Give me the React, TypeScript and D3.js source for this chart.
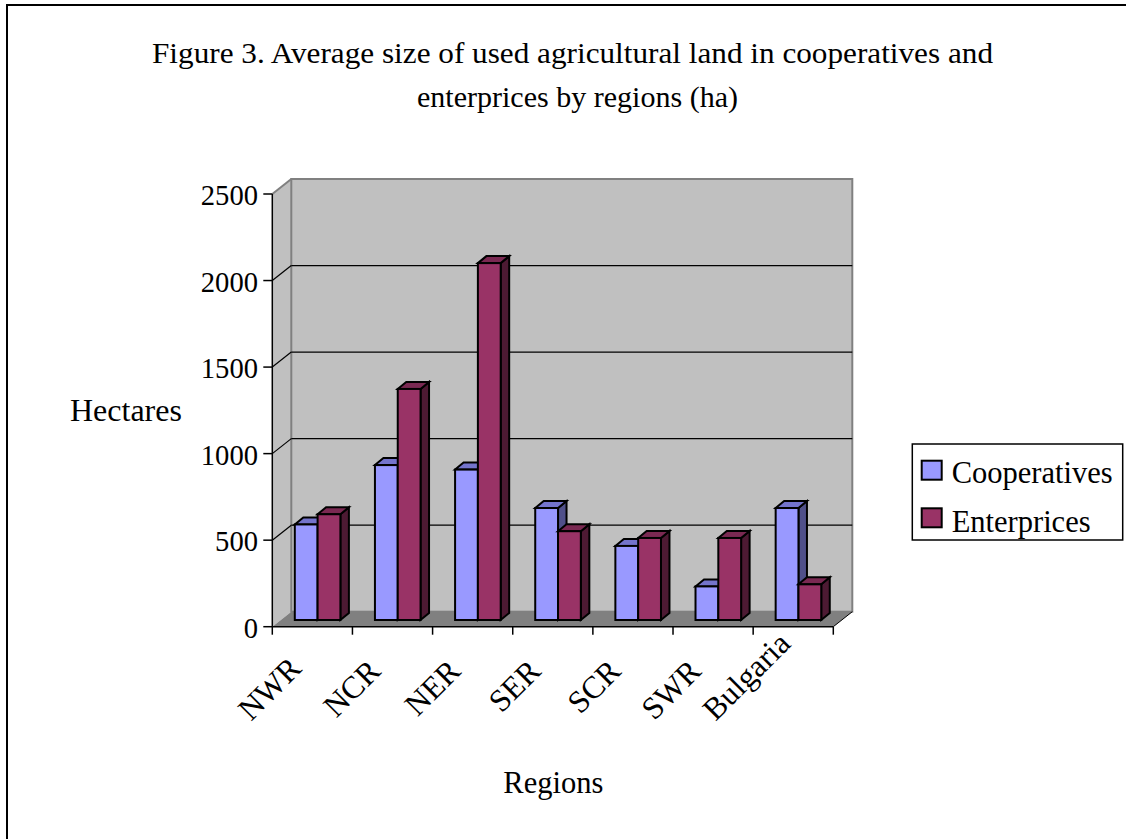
import React from "react";
import * as d3 from "d3";

// Regions and the average used agricultural land (ha) per farm type
const categories = ["NWR", "NCR", "NER", "SER", "SCR", "SWR", "Bulgaria"];
const cooperatives = [552, 895, 869, 647, 428, 194, 647];
const enterprices = [611, 1335, 2062, 513, 474, 474, 206];
const yTicks = [0, 500, 1000, 1500, 2000, 2500];
const seriesNames = ["Cooperatives", "Enterprices"];
const titleLines = [
  "Figure 3. Average size of used agricultural land in cooperatives and",
  "enterprices by regions (ha)",
];

const FONT = "'Liberation Serif', 'Times New Roman', serif";
const LABEL_SIZE = 31.5;

// 3D frame: front plane, oblique depth offset of the back wall
const X0 = 272.3;
const X1 = 833.3;
const Y_BASE = 626.7;
const Y_TOP = 194;
const DX = 19;
const DY = -15;

// bars sit part way into the depth
const BAR_BASE = 620;
const BAR_OFFSET = 22.5;
const BAR_W = 22.8;
const BDX = 8.5;
const BDY = -7;

const seriesColors = [
  { front: "#9999FF", top: "#7474CC", side: "#50508A" },
  { front: "#993366", top: "#7A2952", side: "#4D1A33" },
];

// width of a string in the label font
function measure(text: string, size: number): number {
  if (typeof document === "undefined") return text.length * size * 0.5;
  const ctx = document.createElement("canvas").getContext("2d");
  if (!ctx) return text.length * size * 0.5;
  ctx.font = `${size}px ${FONT}`;
  return ctx.measureText(text).width;
}

export default function App() {
  const x = d3.scaleBand<string>().domain(categories).range([X0, X1]).padding(0);
  const yAxis = d3.scaleLinear().domain([0, 2500]).range([Y_BASE, Y_TOP]);
  const yBar = d3
    .scaleLinear()
    .domain([0, 2500])
    .range([BAR_BASE, BAR_BASE - (Y_BASE - Y_TOP)]);

  const series = [cooperatives, enterprices];
  const pts = (a: number[][]) => a.map((p) => p.join(",")).join(" ");

  const bars: React.ReactNode[] = [];
  categories.forEach((c, ci) => {
    series.forEach((vals, si) => {
      const v = vals[ci];
      const bx = (x(c) as number) + BAR_OFFSET + si * BAR_W;
      const yt = yBar(v);
      const col = seriesColors[si];
      const st = { stroke: "#000", strokeWidth: 2, strokeLinejoin: "miter" as const };
      bars.push(
        <g key={`${c}-${si}`}>
          <polygon
            points={pts([
              [bx + BAR_W, yt],
              [bx + BAR_W + BDX, yt + BDY],
              [bx + BAR_W + BDX, BAR_BASE + BDY],
              [bx + BAR_W, BAR_BASE],
            ])}
            fill={col.side}
            {...st}
          />
          <polygon
            points={pts([
              [bx, yt],
              [bx + BDX, yt + BDY],
              [bx + BAR_W + BDX, yt + BDY],
              [bx + BAR_W, yt],
            ])}
            fill={col.top}
            {...st}
          />
          <rect x={bx} y={yt} width={BAR_W} height={BAR_BASE - yt} fill={col.front} {...st} />
        </g>
      );
    });
  });

  const step = x.step();
  const tickXs = d3.range(categories.length + 1).map((i) => X0 + i * step);

  // rotated labels hang from the axis; long ones are lifted so they stay in the label band
  const LABEL_END_Y = 673;
  const LABEL_BOTTOM = 722;
  const labelPos = categories.map((c) => {
    const cx = (x(c) as number) + step / 2;
    const w = measure(c, LABEL_SIZE);
    const yEnd = Math.min(LABEL_END_Y, LABEL_BOTTOM - w * Math.SQRT1_2);
    const lift = LABEL_END_Y - yEnd;
    return { c, x: cx - 10.5 + lift * 0.34, y: yEnd };
  });

  return (
    <svg
      width={1126}
      height={839}
      style={{ position: "absolute", left: 0, top: 0, background: "#fff" }}
      fontFamily={FONT}
    >
      <rect x={0} y={0} width={1126} height={839} fill="#fff" />
      <rect x={7} y={5} width={1140} height={860} fill="#fff" stroke="#000" strokeWidth={2} />

      {/* title */}
      <text x={572.5} y={63} fontSize={30} textAnchor="middle" textLength={841} lengthAdjust="spacingAndGlyphs">
        {titleLines[0]}
      </text>
      <text x={577.5} y={107} fontSize={30} textAnchor="middle" textLength={321} lengthAdjust="spacingAndGlyphs">
        {titleLines[1]}
      </text>

      {/* walls and floor */}
      <polygon
        points={pts([
          [X0, Y_TOP],
          [X0 + DX, Y_TOP + DY],
          [X0 + DX, Y_BASE + DY],
          [X0, Y_BASE],
        ])}
        fill="#C0C0C0"
      />
      <rect
        x={X0 + DX}
        y={Y_TOP + DY}
        width={X1 - X0}
        height={Y_BASE - Y_TOP}
        fill="#C0C0C0"
        stroke="#808080"
        strokeWidth={2}
      />
      <polygon
        points={pts([
          [X0, Y_BASE],
          [X0 + DX, Y_BASE + DY],
          [X1 + DX, Y_BASE + DY],
          [X1, Y_BASE],
        ])}
        fill="#808080"
      />
      <line x1={X0} y1={Y_TOP} x2={X0 + DX} y2={Y_TOP + DY} stroke="#808080" strokeWidth={2} />

      {/* gridlines */}
      {yTicks
        .filter((t) => t > 0 && t < 2500)
        .map((t) => (
          <g key={`g${t}`} stroke="#000" strokeWidth={1.2}>
            <line x1={X0} y1={yAxis(t)} x2={X0 + DX} y2={yAxis(t) + DY} />
            <line x1={X0 + DX} y1={yAxis(t) + DY} x2={X1 + DX} y2={yAxis(t) + DY} />
          </g>
        ))}

      {/* value axis */}
      <line x1={X0} y1={Y_TOP} x2={X0} y2={Y_BASE} stroke="#000" strokeWidth={1.5} />
      {yTicks.map((t) => (
        <g key={`t${t}`}>
          <line x1={X0 - 9} y1={yAxis(t)} x2={X0} y2={yAxis(t)} stroke="#000" strokeWidth={1.5} />
          <text x={258} y={yAxis(t) + 11} fontSize={28.6} textAnchor="end">
            {t}
          </text>
        </g>
      ))}

      {/* category axis */}
      <line x1={X0} y1={Y_BASE} x2={X1} y2={Y_BASE} stroke="#000" strokeWidth={1.5} />
      <line x1={X1} y1={Y_BASE} x2={X1 + DX} y2={Y_BASE + DY} stroke="#000" strokeWidth={1} />
      {tickXs.map((tx, i) => (
        <line key={`xt${i}`} x1={tx} y1={Y_BASE} x2={tx} y2={Y_BASE + 8} stroke="#000" strokeWidth={1.5} />
      ))}

      {bars}

      {/* category labels */}
      {labelPos.map((l) => (
        <text
          key={`l${l.c}`}
          transform={`translate(${l.x},${l.y}) rotate(-45)`}
          fontSize={LABEL_SIZE}
          textAnchor="end"
        >
          {l.c}
        </text>
      ))}

      {/* axis titles */}
      <text x={70} y={421} fontSize={32}>
        Hectares
      </text>
      <text x={503.3} y={793.3} fontSize={30.5}>
        Regions
      </text>

      {/* legend */}
      <rect x={912.3} y={444} width={210.4} height={96} fill="#fff" stroke="#000" strokeWidth={1.5} />
      {seriesNames.map((n, i) => (
        <g key={n}>
          <rect
            x={921.7}
            y={460.7 + i * 47.6}
            width={20}
            height={19}
            fill={seriesColors[i].front}
            stroke="#000"
            strokeWidth={2}
          />
          <text x={951.7} y={483.3 + i * 48.4} fontSize={30.5}>
            {n}
          </text>
        </g>
      ))}
    </svg>
  );
}
